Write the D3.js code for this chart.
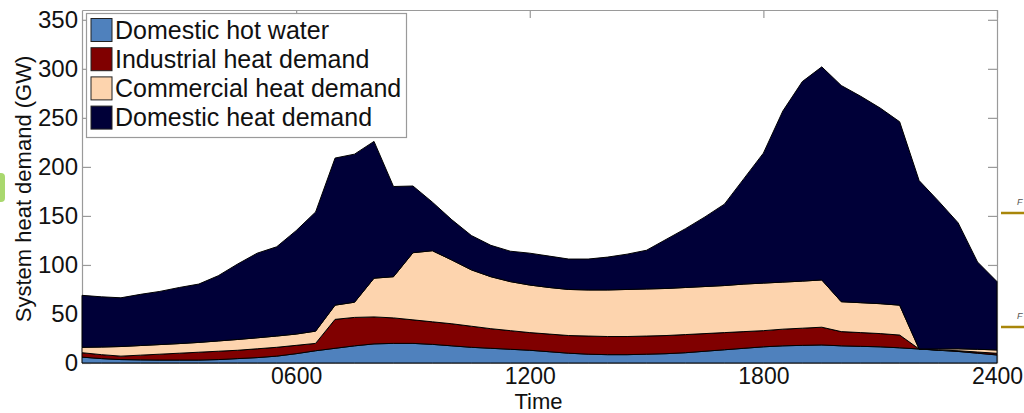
<!DOCTYPE html>
<html>
<head>
<meta charset="utf-8">
<script src="https://cdn.jsdelivr.net/npm/d3@7"></script>
<style>
  html, body { margin: 0; padding: 0; background: #fff; }
  svg { display: block; font-family: "Liberation Sans", Arial, sans-serif; }
</style>
</head>
<body>
<svg id="chart" width="1024" height="413"></svg>
<script>
// ---- data ----
const hours = [0.5, 1, 1.5, 2, 2.5, 3, 3.5, 4, 4.5, 5, 5.5, 6, 6.5, 7, 7.5, 8, 8.5, 9, 9.5, 10,
  10.5, 11, 11.5, 12, 12.5, 13, 13.5, 14, 14.5, 15, 15.5, 16, 16.5, 17, 17.5, 18, 18.5, 19, 19.5, 20,
  20.5, 21, 21.5, 22, 22.5, 23, 23.5, 24];

const domesticHotWater = [6, 4.5, 3.5, 3.2, 3, 3, 3, 3.5, 4.5, 5.5, 7, 9.5, 12.5, 15, 17.5, 19.5, 20, 20, 19, 17.5,
  16, 15, 14, 13, 11.5, 10, 9, 8.5, 8.5, 9, 9.5, 10.5, 12, 13.5, 15, 16.5, 17.5, 18, 18.4, 17.5,
  17, 16.5, 15.5, 14.3, 13, 11.8, 10, 8.2];

const industrialHeat = [4.5, 4, 3.5, 4.8, 6, 7, 8, 8.5, 8.5, 9, 9, 8.5, 7.5, 29.5, 29, 27.5, 26, 24, 23, 22.5,
  21.5, 20, 19, 18, 18, 18, 18.5, 18.5, 18.5, 18.5, 18.5, 18.5, 18, 17.5, 17, 16.5, 17, 17.5, 18.1, 14.5,
  14, 13.5, 13, 0, 0.3, 0.7, 1.2, 1.7];

const commercialHeat = [5.5, 7.8, 9.8, 9.8, 9.8, 9.8, 10, 10.5, 11, 11.2, 11.5, 11.5, 12.5, 14.5, 15.5, 39.5, 42, 68.5, 72.5, 65,
  57.5, 53, 50, 48.5, 47.5, 47, 47, 47.5, 48, 48, 48, 48, 48, 48, 48.5, 48.5, 48, 48, 48.2, 30.5,
  30.5, 30.5, 30.5, 0, 1, 2, 2.8, 3.4];

const domesticHeat = [53, 51.2, 49.7, 52.2, 54.2, 57.2, 59.5, 66.5, 77, 86.3, 91, 105.5, 121.5, 150, 151, 139.5, 92, 68, 49.5, 41,
  35, 32, 31, 32.5, 32, 31, 31.5, 33.5, 36, 39.5, 50, 60, 71, 83, 107.5, 132.5, 174.5, 203.5, 217.3, 220.5,
  210.5, 199.5, 187, 171.7, 150.7, 128.5, 89, 69.7];

const seriesNames = ["Domestic hot water", "Industrial heat demand", "Commercial heat demand", "Domestic heat demand"];
const seriesColors = ["#4f81bd", "#800000", "#fdd4ae", "#000038"];

const xTickValues = [6, 12, 18, 24];
const xTickLabels = ["0600", "1200", "1800", "2400"];
const yTickValues = [0, 50, 100, 150, 200, 250, 300, 350];

// ---- build table ----
const keys = ["dhw", "ind", "com", "dom"];
const table = hours.map((h, i) => ({
  h: h, dhw: domesticHotWater[i], ind: industrialHeat[i], com: commercialHeat[i], dom: domesticHeat[i]
}));

// ---- layout ----
const L = 82, R = 997, T = 10, B = 363;
const svg = d3.select("#chart");
svg.append("rect").attr("width", 1024).attr("height", 413).attr("fill", "#fff");

const x = d3.scaleLinear().domain([0.5, 24]).range([L, R]);
const y = d3.scaleLinear().domain([0, 360]).range([B, T]);

const axisColor = "#9a9a9a";
function styleAxis(g, fs) {
  g.selectAll(".domain").attr("stroke", axisColor).attr("stroke-width", 1.2);
  g.selectAll(".tick line").attr("stroke", axisColor).attr("stroke-width", 1.2);
  g.selectAll(".tick text").attr("fill", "#111").attr("font-size", fs || 24)
    .attr("font-family", "'Liberation Sans', Arial, sans-serif");
}

// axes (drawn beneath the areas, like the reference)
svg.append("g").attr("transform", `translate(0,${T})`)
  .call(d3.axisTop(x).tickValues(xTickValues).tickFormat("").tickSizeInner(-8).tickSizeOuter(0))
  .call(styleAxis);
svg.append("g").attr("transform", `translate(${R},0)`)
  .call(d3.axisRight(y).tickValues(yTickValues).tickFormat("").tickSizeInner(-9).tickSizeOuter(0))
  .call(styleAxis);
svg.append("g").attr("transform", `translate(0,${B})`)
  .call(d3.axisBottom(x).tickValues(xTickValues).tickFormat((d, i) => xTickLabels[i])
    .tickSizeInner(-8).tickSizeOuter(0).tickPadding(5))
  .call(g => styleAxis(g, 23));
svg.append("g").attr("transform", `translate(${L},0)`)
  .call(d3.axisLeft(y).tickValues(yTickValues).tickSizeInner(-9).tickSizeOuter(0).tickPadding(4))
  .call(g => styleAxis(g, 24));

// stacked areas
const stack = d3.stack().keys(keys);
const layers = stack(table);
const area = d3.area()
  .x(d => x(d.data.h))
  .y0(d => y(d[0]))
  .y1(d => y(d[1]));

svg.append("g").selectAll("path")
  .data(layers)
  .join("path")
  .attr("d", area)
  .attr("fill", (d, i) => seriesColors[i])
  .attr("stroke", "#000")
  .attr("stroke-width", 1)
  .attr("stroke-linejoin", "round");

// axis labels
svg.append("text")
  .attr("x", (L + R) / 2 - 1).attr("y", 408.5)
  .attr("text-anchor", "middle").attr("font-size", 22).attr("fill", "#111")
  .text("Time");
svg.append("text")
  .attr("transform", `translate(31,${189}) rotate(-90)`)
  .attr("text-anchor", "middle").attr("font-size", 22).attr("fill", "#111")
  .text("System heat demand (GW)");

// legend
const lg = svg.append("g");
lg.append("rect").attr("x", 86.5).attr("y", 13.5).attr("width", 320).attr("height", 124)
  .attr("fill", "#fff").attr("stroke", axisColor).attr("stroke-width", 1.2);
seriesNames.forEach((name, i) => {
  const yy = 18.5 + i * 29.2;
  lg.append("rect").attr("x", 91).attr("y", yy).attr("width", 21).attr("height", 23)
    .attr("fill", seriesColors[i]).attr("stroke", "#222").attr("stroke-width", 1);
  lg.append("text").attr("x", 115).attr("y", yy + 20).attr("font-size", 25).attr("fill", "#111")
    .text(name);
});

// fragments of neighbouring figures visible at the picture edges
svg.append("rect").attr("x", -6).attr("y", 173).attr("width", 11).attr("height", 29).attr("rx", 4)
  .attr("fill", "#a9d86e");
[213, 327].forEach(yy => {
  svg.append("line").attr("x1", 1001).attr("x2", 1024).attr("y1", yy).attr("y2", yy)
    .attr("stroke", "#a8860a").attr("stroke-width", 2.5);
  svg.append("text").attr("x", 1017).attr("y", yy - 8).attr("font-size", 9)
    .attr("font-style", "italic").attr("fill", "#555").text("F");
});
</script>
</body>
</html>
